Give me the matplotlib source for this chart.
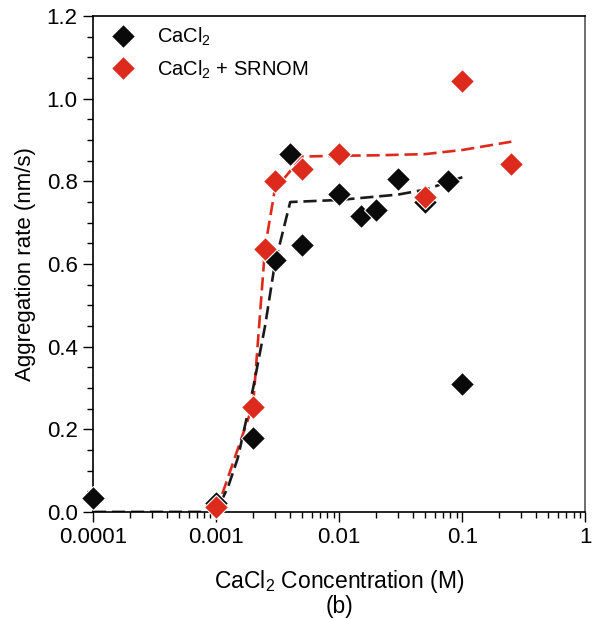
import numpy as np
import matplotlib
matplotlib.use('Agg')
import matplotlib.pyplot as plt
from matplotlib.ticker import MultipleLocator, LogLocator, NullFormatter, FixedLocator, FixedFormatter

plt.rcParams['font.family'] = ['Liberation Sans', 'DejaVu Sans']
plt.rcParams['mathtext.fontset'] = 'custom'
plt.rcParams['mathtext.rm'] = 'Liberation Sans'
plt.rcParams['mathtext.it'] = 'Liberation Sans'

# measured points
cacl2_x = [0.0001, 0.001, 0.002, 0.003, 0.004, 0.005, 0.01, 0.015, 0.02, 0.03, 0.05, 0.077, 0.1]
cacl2_y = [0.034, 0.022, 0.18, 0.61, 0.866, 0.646, 0.77, 0.716, 0.73, 0.805, 0.75, 0.80, 0.31]

srnom_x = [0.001, 0.002, 0.0025, 0.003, 0.005, 0.01, 0.05, 0.1, 0.25]
srnom_y = [0.012, 0.255, 0.636, 0.80, 0.83, 0.866, 0.762, 1.043, 0.842]

# fitted curves (dashed)
fit_black_x = [0.0001, 0.001, 0.00125, 0.0015, 0.00175, 0.002, 0.0025, 0.003, 0.004, 0.01, 0.03, 0.05, 0.1]
fit_black_y = [0.0, 0.0, 0.06, 0.13, 0.22, 0.30, 0.45, 0.60, 0.75, 0.755, 0.768, 0.78, 0.81]

fit_red_x = [0.001, 0.002, 0.0025, 0.003, 0.005, 0.01, 0.02, 0.05, 0.1, 0.25]
fit_red_y = [0.0, 0.26, 0.64, 0.78, 0.86, 0.862, 0.863, 0.866, 0.876, 0.896]

red = '#dc2b1d'

fig = plt.figure(figsize=(5.92, 6.19), dpi=100)
ax = fig.add_axes([0.157, 0.173, 0.832, 0.801])

ax.plot(fit_red_x, fit_red_y, color=red, lw=1.9, dashes=(5, 2.2), zorder=2)
ax.plot(fit_black_x, fit_black_y, color='#1a1a1a', lw=1.9, dashes=(5, 2.2), zorder=2.1)

ax.plot(cacl2_x, cacl2_y, 'D', color='#0a0a0a', ms=12, mec='white', mew=0.8,
        ls='none', label='CaCl$_2$', zorder=3, clip_on=False)
ax.plot(srnom_x, srnom_y, 'D', color=red, ms=12, mec='white', mew=0.8,
        ls='none', label='CaCl$_2$ + SRNOM', zorder=4, clip_on=False)

ax.set_xscale('log')
ax.set_xlim(0.0001, 1)
ax.set_ylim(0, 1.2)

ax.xaxis.set_major_locator(FixedLocator([0.0001, 0.001, 0.01, 0.1, 1]))
ax.xaxis.set_major_formatter(FixedFormatter(['0.0001', '0.001', '0.01', '0.1', '1']))
ax.xaxis.set_minor_locator(LogLocator(base=10, subs=np.arange(2, 10)))
ax.xaxis.set_minor_formatter(NullFormatter())

ax.yaxis.set_major_locator(MultipleLocator(0.2))
ax.yaxis.set_minor_locator(MultipleLocator(0.05))
ax.yaxis.set_major_formatter(plt.FuncFormatter(lambda v, p: f'{v:.1f}'))

ax.tick_params(which='major', direction='out', length=7, width=1, labelsize=16, pad=4)
ax.tick_params(which='minor', direction='out', length=4, width=1)
ax.tick_params(top=False, right=False)
for s in ax.spines.values():
    s.set_linewidth(1.2)
ax.spines['right'].set_color('#555555')

ax.set_xlabel('CaCl$_2$ Concentration (M)\n(b)', fontsize=16.5, labelpad=14, linespacing=1.0)
ax.set_ylabel('Aggregation rate (nm/s)', fontsize=16, labelpad=8)

ax.legend(loc='upper left', frameon=False, fontsize=14.5, handletextpad=0.7,
          borderaxespad=0.1, labelspacing=0.5, markerscale=1.0)

fig.savefig('out.png', dpi=100)
